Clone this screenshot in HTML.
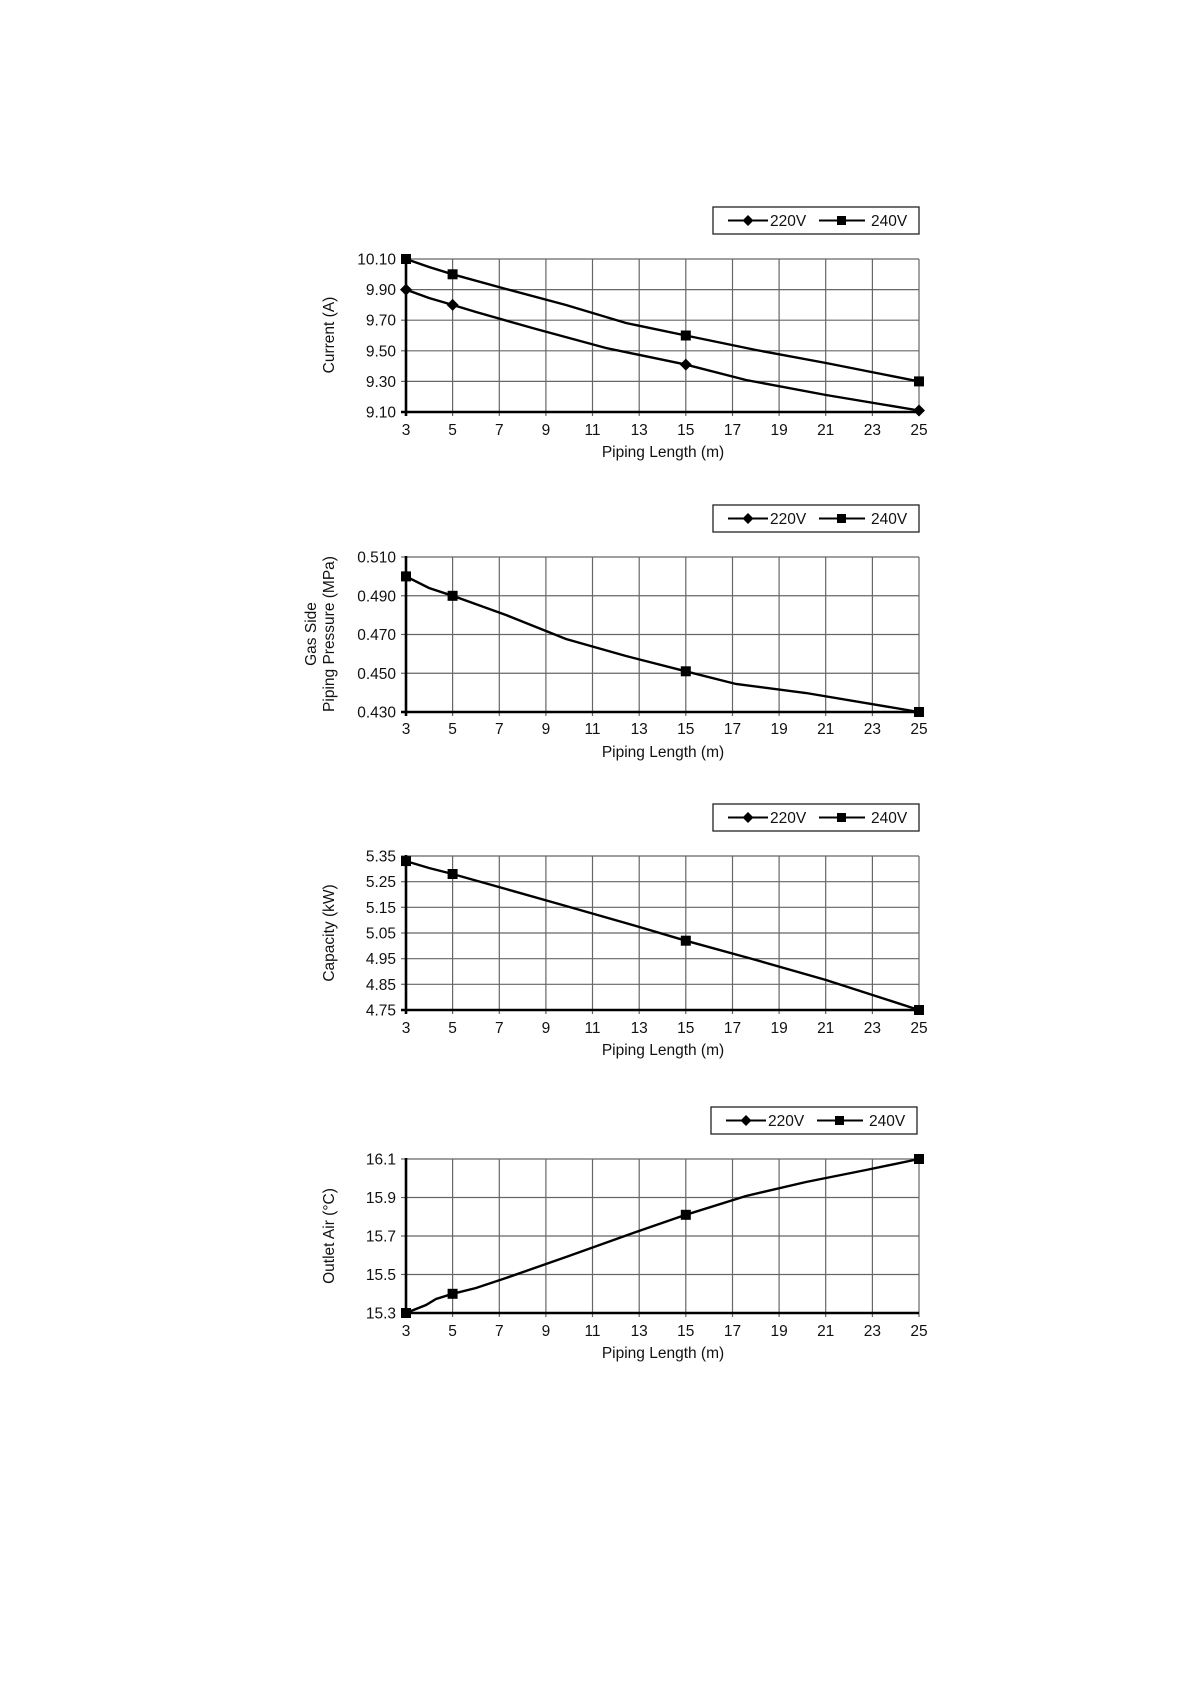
<!DOCTYPE html>
<html><head><meta charset="utf-8"><style>
html,body{margin:0;padding:0;background:#fff}
svg{display:block}
text{font-family:"Liberation Sans",Arial,sans-serif;font-size:15.5px;fill:#111}
.g{stroke:#666;stroke-width:1.2}
.ax{stroke:#000;stroke-width:2.6}
.s{fill:none;stroke:#000;stroke-width:2.4}
</style></head><body>
<svg width="1190" height="1684" viewBox="0 0 1190 1684" xmlns="http://www.w3.org/2000/svg">
<defs>
<g id="vg">
<line class="g" x1="46.6" y1="0" x2="46.6" y2="1"/>
</g>
</defs>

<!-- Chart 1 -->
<g transform="translate(406,259)">
<g class="g">
<line x1="0" y1="0" x2="513" y2="0"/><line x1="0" y1="30.6" x2="513" y2="30.6"/><line x1="0" y1="61.2" x2="513" y2="61.2"/><line x1="0" y1="91.8" x2="513" y2="91.8"/><line x1="0" y1="122.4" x2="513" y2="122.4"/>
<line x1="46.6" y1="0" x2="46.6" y2="157"/><line x1="93.3" y1="0" x2="93.3" y2="157"/><line x1="139.9" y1="0" x2="139.9" y2="157"/><line x1="186.5" y1="0" x2="186.5" y2="157"/><line x1="233.2" y1="0" x2="233.2" y2="157"/><line x1="279.8" y1="0" x2="279.8" y2="157"/><line x1="326.5" y1="0" x2="326.5" y2="157"/><line x1="373.1" y1="0" x2="373.1" y2="157"/><line x1="419.7" y1="0" x2="419.7" y2="157"/><line x1="466.4" y1="0" x2="466.4" y2="157"/><line x1="513" y1="0" x2="513" y2="157"/>
<line x1="-5" y1="0" x2="0" y2="0"/><line x1="-5" y1="30.6" x2="0" y2="30.6"/><line x1="-5" y1="61.2" x2="0" y2="61.2"/><line x1="-5" y1="91.8" x2="0" y2="91.8"/><line x1="-5" y1="122.4" x2="0" y2="122.4"/>
</g>
<line class="ax" x1="0" y1="-1" x2="0" y2="157"/><line class="ax" x1="-5" y1="153" x2="513" y2="153"/>
<polyline class="s" points="0,0 23,8 46.6,15.3 100,30 160,46 220,64 279.8,76.5 350,91 420,104 513,122.4"/>
<polyline class="s" points="0,30.6 23,39 46.6,45.9 70,53 130,70 200,89 279.8,105.6 340,121 420,136 513,151.5"/>
<g fill="#000"><rect x="-5" y="-5" width="10" height="10"/><rect x="41.6" y="10.3" width="10" height="10"/><rect x="274.8" y="71.5" width="10" height="10"/><rect x="508" y="117.4" width="10" height="10"/>
<path d="M0,24.6 6,30.6 0,36.6 -6,30.6Z"/><path d="M46.6,39.9 52.6,45.9 46.6,51.9 40.6,45.9Z"/><path d="M279.8,99.6 285.8,105.6 279.8,111.6 273.8,105.6Z"/><path d="M513,145.5 519,151.5 513,157.5 507,151.5Z"/></g>
<g text-anchor="end"><text x="-10" y="5.5">10.10</text><text x="-10" y="36">9.90</text><text x="-10" y="66.7">9.70</text><text x="-10" y="97.3">9.50</text><text x="-10" y="128">9.30</text><text x="-10" y="158.5">9.10</text></g>
<g text-anchor="middle"><text x="0" y="176">3</text><text x="46.6" y="176">5</text><text x="93.3" y="176">7</text><text x="139.9" y="176">9</text><text x="186.5" y="176">11</text><text x="233.2" y="176">13</text><text x="279.8" y="176">15</text><text x="326.5" y="176">17</text><text x="373.1" y="176">19</text><text x="419.7" y="176">21</text><text x="466.4" y="176">23</text><text x="513" y="176">25</text>
<text x="257" y="198">Piping Length (m)</text>
<text transform="translate(-72,76) rotate(-90)">Current (A)</text></g>
</g>
<g transform="translate(713,207)">
<rect x="0" y="0" width="206" height="27" fill="#fff" stroke="#222" stroke-width="1.3"/>
<line x1="15" y1="13.5" x2="55" y2="13.5" stroke="#000" stroke-width="2"/><path d="M35,8 40.5,13.5 35,19 29.5,13.5Z"/>
<text x="57" y="19">220V</text>
<line x1="106" y1="13.5" x2="152" y2="13.5" stroke="#000" stroke-width="2"/><rect x="124" y="9" width="9" height="9"/>
<text x="158" y="19">240V</text>
</g>

<!-- Chart 2 -->
<g transform="translate(406,557)">
<g class="g">
<line x1="0" y1="0" x2="513" y2="0"/><line x1="0" y1="38.75" x2="513" y2="38.75"/><line x1="0" y1="77.5" x2="513" y2="77.5"/><line x1="0" y1="116.25" x2="513" y2="116.25"/>
<line x1="46.6" y1="0" x2="46.6" y2="159"/><line x1="93.3" y1="0" x2="93.3" y2="159"/><line x1="139.9" y1="0" x2="139.9" y2="159"/><line x1="186.5" y1="0" x2="186.5" y2="159"/><line x1="233.2" y1="0" x2="233.2" y2="159"/><line x1="279.8" y1="0" x2="279.8" y2="159"/><line x1="326.5" y1="0" x2="326.5" y2="159"/><line x1="373.1" y1="0" x2="373.1" y2="159"/><line x1="419.7" y1="0" x2="419.7" y2="159"/><line x1="466.4" y1="0" x2="466.4" y2="159"/><line x1="513" y1="0" x2="513" y2="159"/>
<line x1="-5" y1="0" x2="0" y2="0"/><line x1="-5" y1="38.75" x2="0" y2="38.75"/><line x1="-5" y1="77.5" x2="0" y2="77.5"/><line x1="-5" y1="116.25" x2="0" y2="116.25"/>
</g>
<line class="ax" x1="0" y1="-1" x2="0" y2="159"/><line class="ax" x1="-5" y1="155" x2="513" y2="155"/>
<polyline class="s" points="0,19.4 23,31 46.6,38.8 100,58 160,82 220,99 279.8,114.3 330,127 400,136 513,155"/>
<g fill="#000"><rect x="-5" y="14.4" width="10" height="10"/><rect x="41.6" y="33.8" width="10" height="10"/><rect x="274.8" y="109.3" width="10" height="10"/><rect x="508" y="150" width="10" height="10"/></g>
<g text-anchor="end"><text x="-10" y="5.5">0.510</text><text x="-10" y="44.3">0.490</text><text x="-10" y="83">0.470</text><text x="-10" y="121.8">0.450</text><text x="-10" y="160.5">0.430</text></g>
<g text-anchor="middle"><text x="0" y="177">3</text><text x="46.6" y="177">5</text><text x="93.3" y="177">7</text><text x="139.9" y="177">9</text><text x="186.5" y="177">11</text><text x="233.2" y="177">13</text><text x="279.8" y="177">15</text><text x="326.5" y="177">17</text><text x="373.1" y="177">19</text><text x="419.7" y="177">21</text><text x="466.4" y="177">23</text><text x="513" y="177">25</text>
<text x="257" y="200">Piping Length (m)</text>
<text transform="translate(-90,77) rotate(-90)">Gas Side</text>
<text transform="translate(-72,77) rotate(-90)">Piping Pressure (MPa)</text></g>
</g>
<g transform="translate(713,505)">
<rect x="0" y="0" width="206" height="27" fill="#fff" stroke="#222" stroke-width="1.3"/>
<line x1="15" y1="13.5" x2="55" y2="13.5" stroke="#000" stroke-width="2"/><path d="M35,8 40.5,13.5 35,19 29.5,13.5Z"/>
<text x="57" y="19">220V</text>
<line x1="106" y1="13.5" x2="152" y2="13.5" stroke="#000" stroke-width="2"/><rect x="124" y="9" width="9" height="9"/>
<text x="158" y="19">240V</text>
</g>

<!-- Chart 3 -->
<g transform="translate(406,856)">
<g class="g">
<line x1="0" y1="0" x2="513" y2="0"/><line x1="0" y1="25.7" x2="513" y2="25.7"/><line x1="0" y1="51.3" x2="513" y2="51.3"/><line x1="0" y1="77" x2="513" y2="77"/><line x1="0" y1="102.7" x2="513" y2="102.7"/><line x1="0" y1="128.3" x2="513" y2="128.3"/>
<line x1="46.6" y1="0" x2="46.6" y2="158"/><line x1="93.3" y1="0" x2="93.3" y2="158"/><line x1="139.9" y1="0" x2="139.9" y2="158"/><line x1="186.5" y1="0" x2="186.5" y2="158"/><line x1="233.2" y1="0" x2="233.2" y2="158"/><line x1="279.8" y1="0" x2="279.8" y2="158"/><line x1="326.5" y1="0" x2="326.5" y2="158"/><line x1="373.1" y1="0" x2="373.1" y2="158"/><line x1="419.7" y1="0" x2="419.7" y2="158"/><line x1="466.4" y1="0" x2="466.4" y2="158"/><line x1="513" y1="0" x2="513" y2="158"/>
<line x1="-5" y1="0" x2="0" y2="0"/><line x1="-5" y1="25.7" x2="0" y2="25.7"/><line x1="-5" y1="51.3" x2="0" y2="51.3"/><line x1="-5" y1="77" x2="0" y2="77"/><line x1="-5" y1="102.7" x2="0" y2="102.7"/><line x1="-5" y1="128.3" x2="0" y2="128.3"/>
</g>
<line class="ax" x1="0" y1="-1" x2="0" y2="158"/><line class="ax" x1="-5" y1="154" x2="513" y2="154"/>
<polyline class="s" points="0,5.1 23,12 46.6,18 100,33 160,50 230,70 279.8,84.7 350,104 420,124 513,154"/>
<g fill="#000"><rect x="-5" y="0.1" width="10" height="10"/><rect x="41.6" y="13" width="10" height="10"/><rect x="274.8" y="79.7" width="10" height="10"/><rect x="508" y="149" width="10" height="10"/></g>
<g text-anchor="end"><text x="-10" y="5.5">5.35</text><text x="-10" y="31.2">5.25</text><text x="-10" y="56.8">5.15</text><text x="-10" y="82.5">5.05</text><text x="-10" y="108.2">4.95</text><text x="-10" y="133.8">4.85</text><text x="-10" y="159.5">4.75</text></g>
<g text-anchor="middle"><text x="0" y="177">3</text><text x="46.6" y="177">5</text><text x="93.3" y="177">7</text><text x="139.9" y="177">9</text><text x="186.5" y="177">11</text><text x="233.2" y="177">13</text><text x="279.8" y="177">15</text><text x="326.5" y="177">17</text><text x="373.1" y="177">19</text><text x="419.7" y="177">21</text><text x="466.4" y="177">23</text><text x="513" y="177">25</text>
<text x="257" y="199">Piping Length (m)</text>
<text transform="translate(-72,77) rotate(-90)">Capacity (kW)</text></g>
</g>
<g transform="translate(713,804)">
<rect x="0" y="0" width="206" height="27" fill="#fff" stroke="#222" stroke-width="1.3"/>
<line x1="15" y1="13.5" x2="55" y2="13.5" stroke="#000" stroke-width="2"/><path d="M35,8 40.5,13.5 35,19 29.5,13.5Z"/>
<text x="57" y="19">220V</text>
<line x1="106" y1="13.5" x2="152" y2="13.5" stroke="#000" stroke-width="2"/><rect x="124" y="9" width="9" height="9"/>
<text x="158" y="19">240V</text>
</g>

<!-- Chart 4 -->
<g transform="translate(406,1159)">
<g class="g">
<line x1="0" y1="0" x2="513" y2="0"/><line x1="0" y1="38.5" x2="513" y2="38.5"/><line x1="0" y1="77" x2="513" y2="77"/><line x1="0" y1="115.5" x2="513" y2="115.5"/>
<line x1="46.6" y1="0" x2="46.6" y2="158"/><line x1="93.3" y1="0" x2="93.3" y2="158"/><line x1="139.9" y1="0" x2="139.9" y2="158"/><line x1="186.5" y1="0" x2="186.5" y2="158"/><line x1="233.2" y1="0" x2="233.2" y2="158"/><line x1="279.8" y1="0" x2="279.8" y2="158"/><line x1="326.5" y1="0" x2="326.5" y2="158"/><line x1="373.1" y1="0" x2="373.1" y2="158"/><line x1="419.7" y1="0" x2="419.7" y2="158"/><line x1="466.4" y1="0" x2="466.4" y2="158"/><line x1="513" y1="0" x2="513" y2="158"/>
<line x1="-5" y1="0" x2="0" y2="0"/><line x1="-5" y1="38.5" x2="0" y2="38.5"/><line x1="-5" y1="77" x2="0" y2="77"/><line x1="-5" y1="115.5" x2="0" y2="115.5"/>
</g>
<line class="ax" x1="0" y1="-1" x2="0" y2="158"/><line class="ax" x1="-5" y1="154" x2="513" y2="154"/>
<polyline class="s" points="0,154 20,146 30,140 46.6,134.8 70,129 100,119 160,98 230,73 279.8,55.8 340,37 400,23 460,11 513,0"/>
<g fill="#000"><rect x="-5" y="149" width="10" height="10"/><rect x="41.6" y="129.8" width="10" height="10"/><rect x="274.8" y="50.8" width="10" height="10"/><rect x="508" y="-5" width="10" height="10"/></g>
<g text-anchor="end"><text x="-10" y="5.5">16.1</text><text x="-10" y="44">15.9</text><text x="-10" y="82.5">15.7</text><text x="-10" y="121">15.5</text><text x="-10" y="159.5">15.3</text></g>
<g text-anchor="middle"><text x="0" y="177">3</text><text x="46.6" y="177">5</text><text x="93.3" y="177">7</text><text x="139.9" y="177">9</text><text x="186.5" y="177">11</text><text x="233.2" y="177">13</text><text x="279.8" y="177">15</text><text x="326.5" y="177">17</text><text x="373.1" y="177">19</text><text x="419.7" y="177">21</text><text x="466.4" y="177">23</text><text x="513" y="177">25</text>
<text x="257" y="199">Piping Length (m)</text>
<text transform="translate(-72,77) rotate(-90)">Outlet Air (°C)</text></g>
</g>
<g transform="translate(711,1107)">
<rect x="0" y="0" width="206" height="27" fill="#fff" stroke="#222" stroke-width="1.3"/>
<line x1="15" y1="13.5" x2="55" y2="13.5" stroke="#000" stroke-width="2"/><path d="M35,8 40.5,13.5 35,19 29.5,13.5Z"/>
<text x="57" y="19">220V</text>
<line x1="106" y1="13.5" x2="152" y2="13.5" stroke="#000" stroke-width="2"/><rect x="124" y="9" width="9" height="9"/>
<text x="158" y="19">240V</text>
</g>
</svg>
</body></html>
